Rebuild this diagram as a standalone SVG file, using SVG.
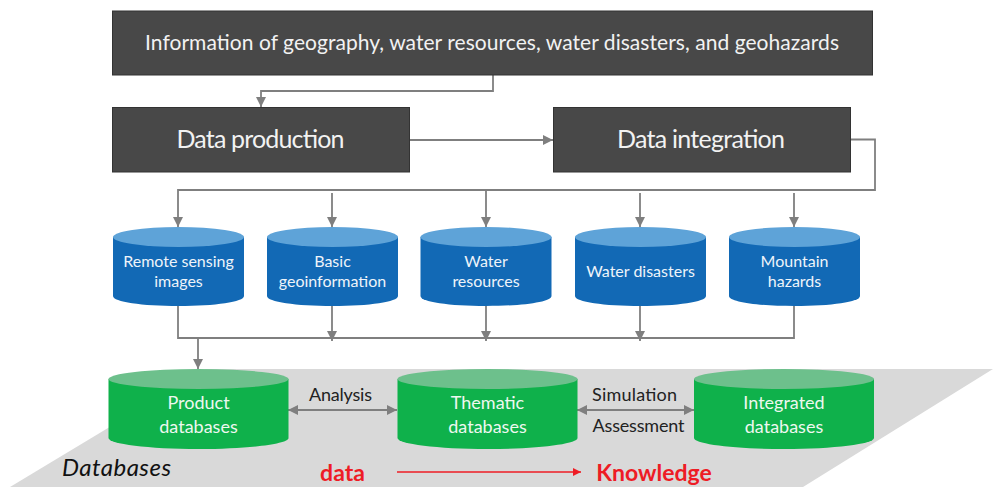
<svg xmlns="http://www.w3.org/2000/svg" width="993" height="487" viewBox="0 0 993 487">
<defs>
<marker id="a" markerUnits="userSpaceOnUse" markerWidth="11" markerHeight="11" refX="10" refY="5" orient="auto-start-reverse"><path d="M0 0L10 5L0 10Z" fill="#7f7f7f"/></marker>
<marker id="r" markerUnits="userSpaceOnUse" markerWidth="9" markerHeight="8" refX="8" refY="4" orient="auto"><path d="M0 0L8 4L0 8Z" fill="#ee1c25"/></marker>
<g id="bc"><path d="M0 10V69C0 75 29 79 65.500 79S131 75 131 69V10Z" fill="#1269b5"/><ellipse cx="65.500" cy="10" rx="65.500" ry="10" fill="#5ea3d8"/></g>
<g id="gc"><path d="M0 10V69C0 75 40 80 90 80S180 75 180 69V10Z" fill="#0fb14b"/><ellipse cx="90" cy="10" rx="90" ry="10" fill="#6dc08c"/></g>
</defs>
<style>
text{font-family:Lato,"Liberation Sans",sans-serif;text-anchor:middle}
.box{fill:#484848;stroke:#333;stroke-width:1}
.l{fill:#f2f2f2;font-size:21px}
.m{fill:#f2f2f2;font-size:25px}
.b{fill:#eef4fa;font-size:16px}
.g{fill:#eef8f0;font-size:18px}
.k{fill:#222;font-size:18px}
.red{fill:#ee1c25;font-size:23px;font-weight:700}
.c{fill:none;stroke:#7f7f7f;stroke-width:1.800}
</style>
<rect width="993" height="487" fill="#fff"/>
<polygon points="206,369 993,369 803,487 10,487" fill="#d9d9d9"/>
<g id="connectors">
<path class="c" d="M493 75V91H261V107" marker-end="url(#a)"/>
<path class="c" d="M409 140H553" marker-end="url(#a)"/>
<path class="c" d="M850 139.500H875V190H178V227" marker-end="url(#a)"/>
<path class="c" d="M332 193V227" marker-end="url(#a)"/>
<path class="c" d="M486 190V227" marker-end="url(#a)"/>
<path class="c" d="M640 193V227" marker-end="url(#a)"/>
<path class="c" d="M794 193V227" marker-end="url(#a)"/>
<path class="c" d="M178 306V338H794V306"/>
<path class="c" d="M332 306V341" marker-end="url(#a)"/>
<path class="c" d="M486 306V341" marker-end="url(#a)"/>
<path class="c" d="M640 306V341" marker-end="url(#a)"/>
<path class="c" d="M198 338V369" marker-end="url(#a)"/>
<path class="c" d="M288 410H397" marker-start="url(#a)" marker-end="url(#a)"/>
<path class="c" d="M577 410H694" marker-start="url(#a)" marker-end="url(#a)"/>
<path d="M397 472H581" fill="none" stroke="#ee1c25" stroke-width="1.500" marker-end="url(#r)"/>
</g>
<g id="n-info"><rect class="box" x="112.500" y="11" width="760" height="64"/><text class="l" x="492" y="50" textLength="694" lengthAdjust="spacing">Information of geography, water resources, water disasters, and geohazards</text></g>
<g id="n-production"><rect class="box" x="112.500" y="107.500" width="297" height="64.500"/><text class="m" x="260.500" y="148" textLength="168" lengthAdjust="spacing">Data production</text></g>
<g id="n-integration"><rect class="box" x="553.500" y="107.500" width="297" height="64.500"/><text class="m" x="701" y="148" textLength="168" lengthAdjust="spacing">Data integration</text></g>
<g id="n-remote"><use href="#bc" x="113" y="227"/><text class="b" x="178.500" y="267">Remote sensing</text><text class="b" x="178.500" y="287">images</text></g>
<g id="n-basic"><use href="#bc" x="267" y="227"/><text class="b" x="332.500" y="267">Basic</text><text class="b" x="332.500" y="287">geoinformation</text></g>
<g id="n-water"><use href="#bc" x="420.500" y="227"/><text class="b" x="486" y="267">Water</text><text class="b" x="486" y="287">resources</text></g>
<g id="n-disasters"><use href="#bc" x="575" y="227"/><text class="b" x="640.500" y="277">Water disasters</text></g>
<g id="n-mountain"><use href="#bc" x="729" y="227"/><text class="b" x="794.500" y="267">Mountain</text><text class="b" x="794.500" y="287">hazards</text></g>
<g id="n-product"><use href="#gc" x="108.500" y="369"/><text class="g" x="198.500" y="409">Product</text><text class="g" x="198.500" y="433">databases</text></g>
<g id="n-thematic"><use href="#gc" x="397.500" y="369"/><text class="g" x="487.500" y="409">Thematic</text><text class="g" x="487.500" y="433">databases</text></g>
<g id="n-integrated"><use href="#gc" x="694" y="369"/><text class="g" x="784" y="409">Integrated</text><text class="g" x="784" y="433">databases</text></g>
<text class="k" x="340.500" y="401" textLength="63">Analysis</text>
<text class="k" x="634.500" y="401" textLength="85">Simulation</text>
<text class="k" x="638.500" y="432" textLength="92">Assessment</text>
<text x="116.500" y="476" font-size="24" font-style="italic" fill="#111" textLength="109">Databases</text>
<text class="red" x="342.500" y="481">data</text>
<text class="red" x="654" y="481">Knowledge</text>
</svg>
